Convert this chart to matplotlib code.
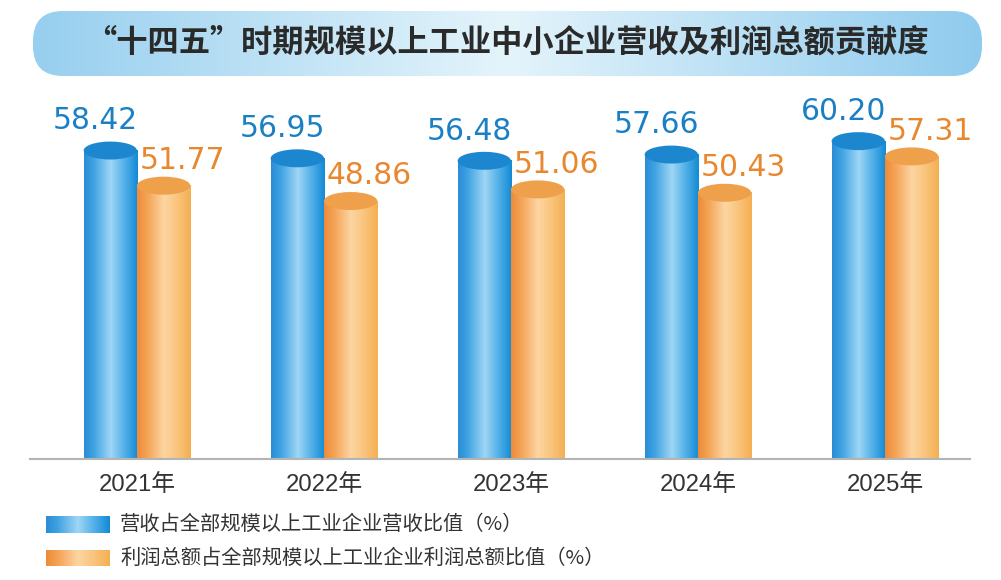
import numpy as np
import matplotlib.pyplot as plt
from matplotlib.colors import LinearSegmentedColormap
from matplotlib.patches import Ellipse, FancyBboxPatch, Rectangle

plt.rcParams['font.family'] = ['Liberation Sans', 'Noto Sans CJK SC', 'DejaVu Sans']

years = ['2021年', '2022年', '2023年', '2024年', '2025年']
revenue = [58.42, 56.95, 56.48, 57.66, 60.20]
profit = [51.77, 48.86, 51.06, 50.43, 57.31]
title = '“十四五”时期规模以上工业中小企业营收及利润总额贡献度'
legend_labels = ['营收占全部规模以上工业企业营收比值（%）',
                 '利润总额占全部规模以上工业企业利润总额比值（%）']

blue_cmap = LinearSegmentedColormap.from_list(
    'b', [(0, '#2a8dd6'), (0.18, '#3fa2e2'), (0.5, '#9fd6f5'),
          (0.72, '#5bb5ea'), (1, '#138ad5')])
orange_cmap = LinearSegmentedColormap.from_list(
    'o', [(0, '#ee8a38'), (0.2, '#f4a558'), (0.5, '#fdd5a2'),
          (0.75, '#f9c47c'), (1, '#f4af52')])
pill_cmap = LinearSegmentedColormap.from_list(
    'p', [(0, '#97cfef'), (0.5, '#e4f4fb'), (1, '#8fcbee')])

W, H = 1001, 580
fig = plt.figure(figsize=(W / 100, H / 100), dpi=100)
fig.patch.set_facecolor('white')

# overlay axes in pixel units for title box and legend
deco = fig.add_axes([0, 0, 1, 1])
deco.set_xlim(0, W)
deco.set_ylim(H, 0)
deco.axis('off')

grad = np.linspace(0, 1, 256).reshape(1, -1)
pill = FancyBboxPatch((33, 11), 949, 65, boxstyle='round,pad=0,rounding_size=30',
                      facecolor='none', edgecolor='none')
deco.add_patch(pill)
im = deco.imshow(grad, cmap=pill_cmap, extent=[33, 982, 76, 11], aspect='auto')
im.set_clip_path(pill)
deco.text(507, 43, title, fontsize=22.5, fontweight='bold', color='#2a2a2a',
          ha='center', va='center', family=['Noto Sans CJK SC'])

# legend
sw_top = [516, 549.5]
for k, (cm, lab) in enumerate(zip([blue_cmap, orange_cmap], legend_labels)):
    y0 = sw_top[k]
    r = Rectangle((46, y0), 64, 17, facecolor='none', edgecolor='none')
    deco.add_patch(r)
    li = deco.imshow(grad, cmap=cm, extent=[46, 110, y0 + 17, y0], aspect='auto')
    li.set_clip_path(r)
    deco.text(120, y0 + 8.5, lab, fontsize=14.6, color='#333333',
              ha='left', va='center', family=['Noto Sans CJK SC'])

deco.set_xlim(0, W)
deco.set_ylim(H, 0)

# main chart
ax = fig.add_axes([30 / W, (H - 459) / H, 940 / W, 369.6 / H])
ax.patch.set_alpha(0)
bw = 0.285
eh = 3.4
x = np.arange(len(years))


def cylinder(xc, val, cmap, topcolor):
    x0, x1 = xc - bw / 2, xc + bw / 2
    ax.imshow(grad, cmap=cmap, extent=[x0, x1, 0, val], aspect='auto', zorder=2)
    ax.add_patch(Ellipse((xc, val), bw, eh, facecolor=topcolor,
                         edgecolor='none', zorder=3))


for i in x:
    cylinder(i - bw / 2, revenue[i], blue_cmap, '#1c87cf')
    cylinder(i + bw / 2, profit[i], orange_cmap, '#eea04a')
    ax.text(i - bw / 2 - 0.08, revenue[i] + 4.0, f'{revenue[i]:.2f}',
            fontsize=21.4, color='#1a7fc4', ha='center', va='baseline',
            family=['DejaVu Sans'])
    ax.text(i + bw / 2 + 0.1, profit[i] + 3.2, f'{profit[i]:.2f}',
            fontsize=21.4, color='#e8872e', ha='center', va='baseline',
            family=['DejaVu Sans'])
    ax.text(i, -4.9, years[i], fontsize=17.2, color='#333333',
            ha='center', va='center', clip_on=False)

ax.set_xlim(-0.572, 4.455)
ax.set_ylim(0, 70)
for s in ['left', 'right', 'top']:
    ax.spines[s].set_visible(False)
ax.spines['bottom'].set_color('#b4b4b4')
ax.spines['bottom'].set_linewidth(1.5)
ax.set_xticks([])
ax.set_yticks([])

fig.savefig('out.png', dpi=100)
